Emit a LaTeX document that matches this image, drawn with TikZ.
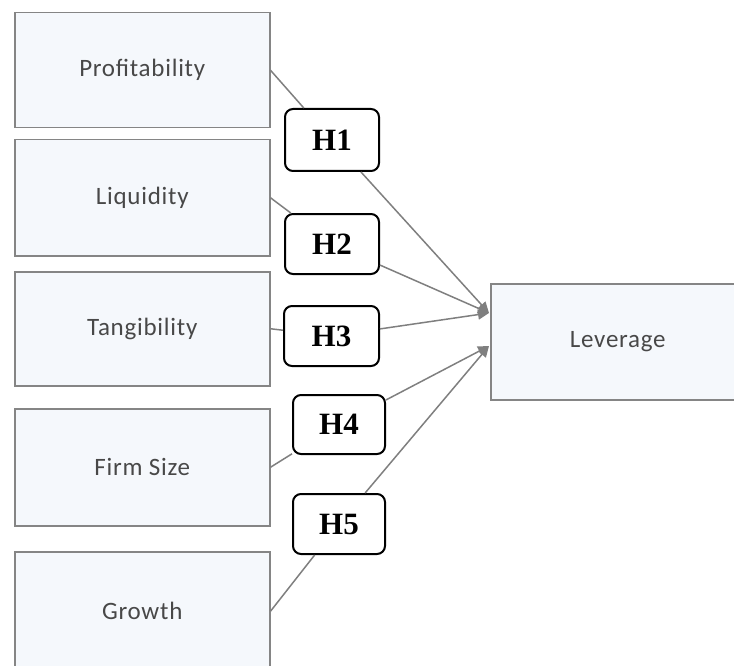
\documentclass[tikz,border=0pt]{standalone}
\usepackage{fontspec}
\setmainfont{Liberation Serif}
\newfontfamily\boxfont[LetterSpace=3]{Carlito}
\usetikzlibrary{arrows.meta}
\definecolor{boxfill}{HTML}{F5F8FC}
\definecolor{boxline}{HTML}{858585}
\definecolor{linegray}{HTML}{7F7F7F}
\definecolor{txtgray}{HTML}{484848}
\begin{document}
\begin{tikzpicture}[x=1pt,y=-1pt,
  varbox/.style={draw=boxline, line width=1.5pt, fill=boxfill, minimum width=255pt,
    minimum height=115pt, anchor=north west, inner sep=0pt,
    font=\boxfont\fontsize{25}{29}\selectfont, text=txtgray},
  hyp/.style={draw=black, line width=2pt, rounded corners=8pt, fill=white,
    minimum width=94pt, minimum height=60pt, anchor=north west, inner sep=0pt,
    font=\bfseries\fontsize{31}{35}\selectfont},
  link/.style={draw=linegray, line width=1.5pt},
  arr/.style={link, -{Triangle[length=11pt,width=10pt]}}]
\useasboundingbox (0,0) rectangle (734,666);
\clip (0,0) rectangle (734,666);
% variable boxes
\node[varbox] (prof) at (14,12) {Profitability};
\node[varbox, minimum height=116pt] (liq) at (14,139) {Liquidity};
\node[varbox, minimum height=114pt] (tang) at (14,271) {Tangibility};
\node[varbox, minimum height=117pt] (size) at (14,408) {Firm Size};
\node[varbox, minimum height=119pt] (grow) at (14,551) {Growth};
\node[varbox, minimum width=254pt, minimum height=116pt] (lev) at (490,283) {Leverage};
% hypothesis labels
\node[hyp, minimum height=62pt] (h1) at (284,108) {H1};
\node[hyp] (h2) at (284,213) {H2};
\node[hyp, minimum width=95pt] (h3) at (283,305) {H3};
\node[hyp, minimum width=92pt, minimum height=59pt] (h4) at (292,394) {H4};
\node[hyp, minimum width=92pt] (h5) at (292,493) {H5};
% arrow targets on Leverage
\coordinate (tipA) at (489,313);
\coordinate (tipB) at (489,346);
% connectors
\draw[link] (prof.east) -- (h1);
\draw[arr] (h1) -- (tipA);
\draw[link] (liq.east) -- (h2);
\draw[arr] (h2) -- (tipA);
\draw[link] (tang.east) -- (h3);
\draw[arr] (h3) -- (tipA);
\draw[link] (size.east) -- (h4);
\draw[arr] (h4) -- (tipB);
\draw[link] (grow.east) -- (h5);
\draw[arr] (h5) -- (tipB);
\end{tikzpicture}
\end{document}
